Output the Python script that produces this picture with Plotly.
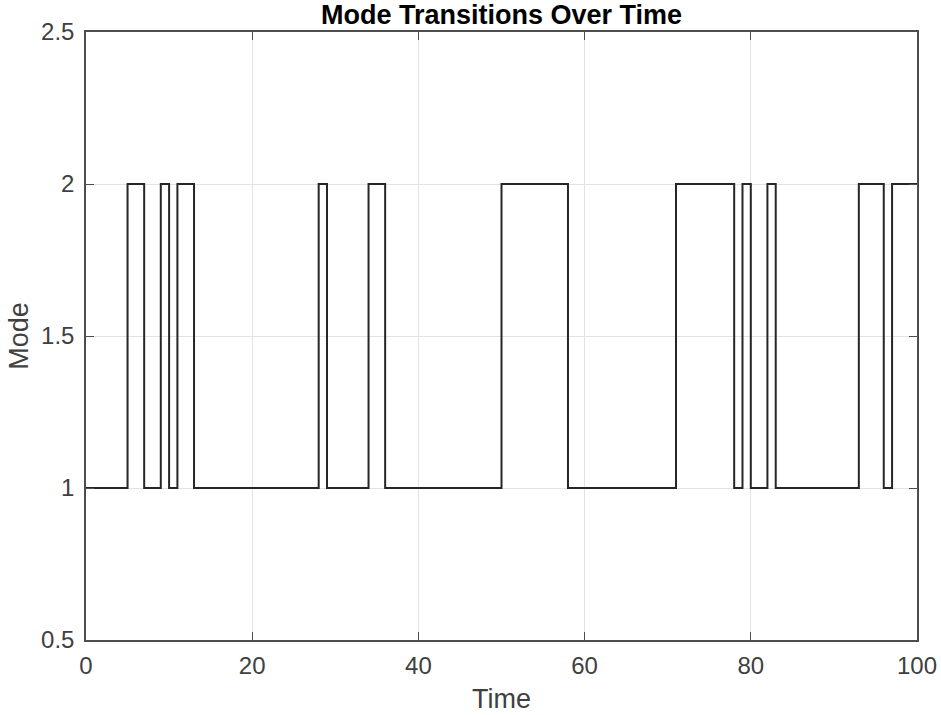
import plotly.graph_objects as go

# mode held from each time step to the next (stairs)
time = list(range(0, 101))
mode = [1, 1, 1, 1, 1, 2, 2, 1, 1, 2,
        1, 2, 2, 1, 1, 1, 1, 1, 1, 1,
        1, 1, 1, 1, 1, 1, 1, 1, 2, 1,
        1, 1, 1, 1, 2, 2, 1, 1, 1, 1,
        1, 1, 1, 1, 1, 1, 1, 1, 1, 1,
        2, 2, 2, 2, 2, 2, 2, 2, 1, 1,
        1, 1, 1, 1, 1, 1, 1, 1, 1, 1,
        1, 2, 2, 2, 2, 2, 2, 2, 1, 2,
        1, 1, 2, 1, 1, 1, 1, 1, 1, 1,
        1, 1, 1, 2, 2, 2, 1, 2, 2, 2,
        2]

x_ticks = [0, 20, 40, 60, 80, 100]
y_ticks = [0.5, 1, 1.5, 2, 2.5]
y_labels = ['0.5', '1', '1.5', '2', '2.5']

fig = go.Figure()
fig.add_trace(go.Scatter(
    x=time, y=mode,
    mode='lines',
    line=dict(color='#262626', width=2, shape='hv'),
    showlegend=False
))

axis_style = dict(
    showgrid=True, gridcolor='#e3e3e3', gridwidth=1,
    showline=True, linecolor='#4d4d4d', linewidth=1.5, mirror='ticks',
    ticks='inside', ticklen=8, tickcolor='#4d4d4d',
    tickfont=dict(size=24, color='#404040'),
    zeroline=False, automargin=False,
)

fig.update_xaxes(range=[0, 100], tickvals=x_ticks, ticklabelstandoff=3,
                 title=dict(text='Time', font=dict(size=27, color='#404040'), standoff=12),
                 **axis_style)
fig.update_yaxes(range=[0.5, 2.5], tickvals=y_ticks, ticktext=y_labels,
                 ticklabelstandoff=5,
                 title=dict(text='Mode', font=dict(size=27, color='#404040'), standoff=5),
                 **axis_style)

fig.update_layout(
    width=941, height=715,
    title=dict(text='<b>Mode Transitions Over Time</b>', x=0.5, xanchor='center',
               xref='paper', yref='container', y=1 - 15 / 715, yanchor='middle',
               font=dict(size=27, color='#000000')),
    font=dict(family='Liberation Sans, Arial, sans-serif'),
    plot_bgcolor='white', paper_bgcolor='white',
    margin=dict(l=86, r=24, t=32, b=75),
)

# drop the default page margin so the figure fills the window
fig.write_html("out.html", config={'displayModeBar': False},
               post_script="document.body.style.margin = '0px';")
